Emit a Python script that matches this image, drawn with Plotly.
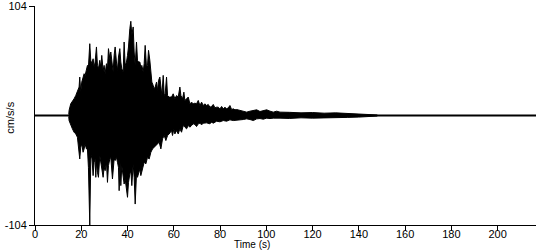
import plotly.graph_objects as go

# Upper envelope (positive peaks) of the accelerogram
upper_t = [14.6, 14.73, 15.45, 16.18, 16.9, 17.62, 18.34, 19.06, 19.35, 19.78,
           20.22, 20.79, 21.23, 21.66, 22.24, 22.67, 23.10, 23.68, 24.11, 24.55,
           25.12, 25.56, 25.99, 26.57, 27.0, 27.43, 28.01, 28.44, 28.87, 29.45,
           29.88, 30.32, 30.89, 31.33, 31.76, 32.34, 32.77, 33.2, 33.78, 34.21,
           34.65, 35.22, 35.66, 36.09, 36.67, 37.1, 37.53, 38.11, 38.54, 38.98,
           39.55, 39.99, 40.42, 41.0, 41.43, 41.86, 42.44, 42.87, 43.31, 43.88,
           44.31, 44.75, 45.32, 45.76, 46.19, 46.77, 47.2, 47.63, 48.21, 48.64,
           49.08, 49.65, 50.09, 50.52, 51.1, 51.53, 51.96, 52.54, 52.97, 53.41,
           53.98, 54.42, 54.85, 55.43, 55.86, 56.29, 56.87, 57.3, 58.02,
           59.03, 59.75, 60.47, 61.2, 61.92, 62.64, 63.07, 63.79, 64.37, 64.8,
           65.53, 66.25, 66.97, 67.69, 68.41, 69.13, 69.85, 70.58, 71.3, 72.02,
           72.74, 73.46, 74.18, 74.9, 75.63, 76.35, 77.07, 77.79, 78.51, 79.23,
           79.96, 80.68, 81.4, 82.12, 82.84, 83.56, 84.28, 85.0, 85.73, 86.45,
           87.17, 88.61, 90.06, 91.5, 92.94, 94.39, 95.83, 97.27, 98.71, 100.16,
           101.6, 103.04, 104.49, 105.93,
           110, 115, 120, 125, 130, 135, 140, 145, 148]
upper_v = [1.0, 4.8, 11.1, 14.3, 15.9, 19.0, 23.8, 27.0, 36.5, 22.2,
           31.7, 36.5, 39.7, 38.1, 44.4, 47.6, 46.0, 68.2, 52.4, 49.2,
           53.9, 46.0, 50.8, 65.1, 47.6, 44.4, 52.4, 46.0, 57.1, 42.8,
           47.6, 39.7, 49.2, 44.4, 63.5, 54.0, 60.3, 50.8, 41.3, 57.1,
           65.1, 50.8, 42.8, 55.5, 63.5, 50.8, 44.4, 41.3, 69.8, 47.6,
           50.8, 57.1, 65.1, 82.5, 89.5, 76.2, 84.1, 60.3, 47.6, 69.8,
           52.4, 50.8, 50.8, 46.0, 47.6, 41.3, 49.2, 66.6, 46.0, 47.6,
           61.9, 52.4, 41.3, 31.7, 28.6, 25.4, 27.0, 31.7, 23.8, 33.3,
           36.5, 25.4, 19.0, 38.1, 19.0, 20.6, 36.5, 19.0, 17.5,
           17.5, 20.6, 15.9, 19.0, 17.5, 27.0, 19.0, 15.9, 22.2, 14.3,
           15.9, 17.5, 11.1, 12.7, 11.1, 11.7, 11.1, 14.3, 9.5, 12.7,
           9.5, 11.1, 9.5, 10.5, 7.9, 8.6, 10.5, 7.3, 7.9, 7.9,
           6.3, 8.6, 6.3, 7.9, 6.3, 7.3, 9.5, 5.7, 6.3, 5.4,
           5.7, 4.8, 4.1, 3.2, 4.1, 4.8, 5.4, 3.8, 4.8, 5.4,
           4.1, 3.2, 4.1, 3.2,
           3.0, 2.5, 2.8, 2.2, 2.5, 2.0, 1.8, 1.2, 0.5]

# Lower envelope (negative peaks)
lower_t = [14.59, 14.73, 15.45, 16.18, 16.9, 17.62, 18.34, 18.77, 19.35, 19.78,
           20.22, 20.79, 21.23, 21.66, 22.24, 22.67, 23.10, 23.68, 24.11, 24.55,
           25.12, 25.56, 25.99, 26.28, 26.57, 27.0, 27.43, 28.01, 28.44, 28.87,
           29.45, 29.88, 30.32, 30.89, 31.33, 31.76, 32.34, 32.77, 33.2, 33.49,
           34.21, 34.65, 35.22, 35.66, 36.09, 36.38, 36.81, 37.1, 37.53, 38.11,
           38.54, 38.98, 39.55, 39.99, 40.42, 41.0, 41.43, 41.86, 42.44, 42.87,
           43.31, 43.88, 44.31, 44.75, 45.32, 45.76, 46.19, 46.77, 47.2, 47.92,
           48.64, 49.37, 50.09, 50.81, 51.53, 52.25, 52.97, 53.69, 54.42, 55.14,
           55.86, 56.58, 57.3, 58.02,
           59.03, 59.46, 60.04, 60.47, 61.2, 61.92, 62.64, 63.36, 64.08, 64.8,
           65.53, 66.25, 66.97, 67.69, 68.41, 69.13, 69.85, 70.58, 71.3, 72.02,
           72.74, 74.18, 75.63, 76.35, 77.07, 78.51, 79.96, 81.4, 82.84, 84.28,
           85.73, 87.17, 88.61, 90.06, 91.5, 92.94, 94.39, 95.83, 97.27, 98.71,
           100.16, 101.6, 103.04, 104.49, 105.93,
           110, 115, 120, 125, 130, 135, 140, 145, 148]
lower_v = [-1.0, -4.8, -7.9, -12.7, -15.9, -17.5, -20.6, -25.4, -41.3, -30.1,
           -27.0, -34.9, -31.7, -27.0, -31.7, -31.7, -49.2, -104, -41.3, -38.1,
           -57.1, -44.4, -41.3, -58.7, -44.4, -53.9, -58.7, -38.1, -47.6, -50.8,
           -58.7, -49.2, -52.4, -44.4, -63.5, -47.6, -41.3, -39.7, -47.6, -60.3,
           -41.3, -42.8, -39.7, -44.4, -49.2, -71.4, -44.4, -66.6, -47.6, -55.5,
           -65.1, -60.3, -68.2, -77.7, -63.5, -55.5, -52.4, -66.6, -46.0, -58.7,
           -84.1, -55.5, -58.7, -57.1, -50.8, -57.1, -52.4, -47.6, -44.4, -46.0,
           -39.7, -41.3, -34.9, -31.7, -30.1, -28.6, -27.0, -25.4, -31.7, -22.2,
           -19.0, -23.8, -19.0, -17.5,
           -14.3, -19.0, -12.7, -17.5, -14.3, -17.5, -12.7, -15.9, -9.5, -11.1,
           -12.7, -9.5, -11.1, -9.5, -7.9, -8.6, -10.5, -7.9, -7.3, -8.9,
           -7.3, -7.0, -7.9, -6.3, -7.3, -5.4, -6.0, -4.8, -5.4, -4.1,
           -4.8, -3.8, -4.1, -3.8, -3.2, -3.8, -4.8, -3.2, -2.9, -3.5,
           -2.5, -2.9, -2.5, -2.2, -2.5,
           -2.8, -2.2, -2.5, -2.0, -2.2, -1.8, -1.5, -1.0, -0.5]

# Quiet record (baseline) over the whole trace
quiet_t = [0, 216.6]
quiet_v = [0, 0]

x_ticks = [0, 20, 40, 60, 80, 100, 120, 140, 160, 180, 200]
y_ticks = [-104, 104]
y_tick_text = ["-104", "104"]

FONT = "Liberation Sans, Arial, sans-serif"

fig = go.Figure()
fig.add_trace(go.Scatter(x=quiet_t, y=quiet_v, mode="lines",
                         line=dict(color="black", width=2), hoverinfo="skip"))
env_x = upper_t + lower_t[::-1]
env_y = upper_v + lower_v[::-1]
fig.add_trace(go.Scatter(x=env_x, y=env_y, mode="lines", fill="toself",
                         fillcolor="black", line=dict(color="black", width=1),
                         hoverinfo="skip"))

fig.update_layout(
    template="none",
    width=550, height=250,
    margin=dict(l=35, r=14, t=6, b=25),
    paper_bgcolor="white", plot_bgcolor="white",
    showlegend=False,
    font=dict(family=FONT, size=11, color="black"),
    xaxis=dict(range=[0, 216.6], tickvals=x_ticks, showline=True, linecolor="black",
               linewidth=1, ticks="outside", ticklen=5, tickcolor="black", tickwidth=1,
               showgrid=False, zeroline=False, ticklabelstandoff=-6,
               tickfont=dict(size=11, color="black", family=FONT)),
    yaxis=dict(range=[-104, 104], tickvals=y_ticks, ticktext=y_tick_text,
               showline=True, linecolor="black", linewidth=1, ticks="outside",
               ticklen=5, tickcolor="black", tickwidth=1, showgrid=False, zeroline=False,
               ticklabeloverflow="allow",
               tickfont=dict(size=11, color="black", family=FONT)),
    annotations=[
        dict(text="Time (s)", xref="paper", yref="paper", x=0.433, y=-0.089,
             xanchor="center", yanchor="middle", showarrow=False,
             font=dict(size=10, color="black", family=FONT)),
        dict(text="cm/s/s", xref="paper", yref="paper", x=-0.05, y=0.49,
             xanchor="center", yanchor="middle", showarrow=False, textangle=-90,
             font=dict(size=11, color="black", family=FONT)),
    ],
)

fig.write_html("out.html")
